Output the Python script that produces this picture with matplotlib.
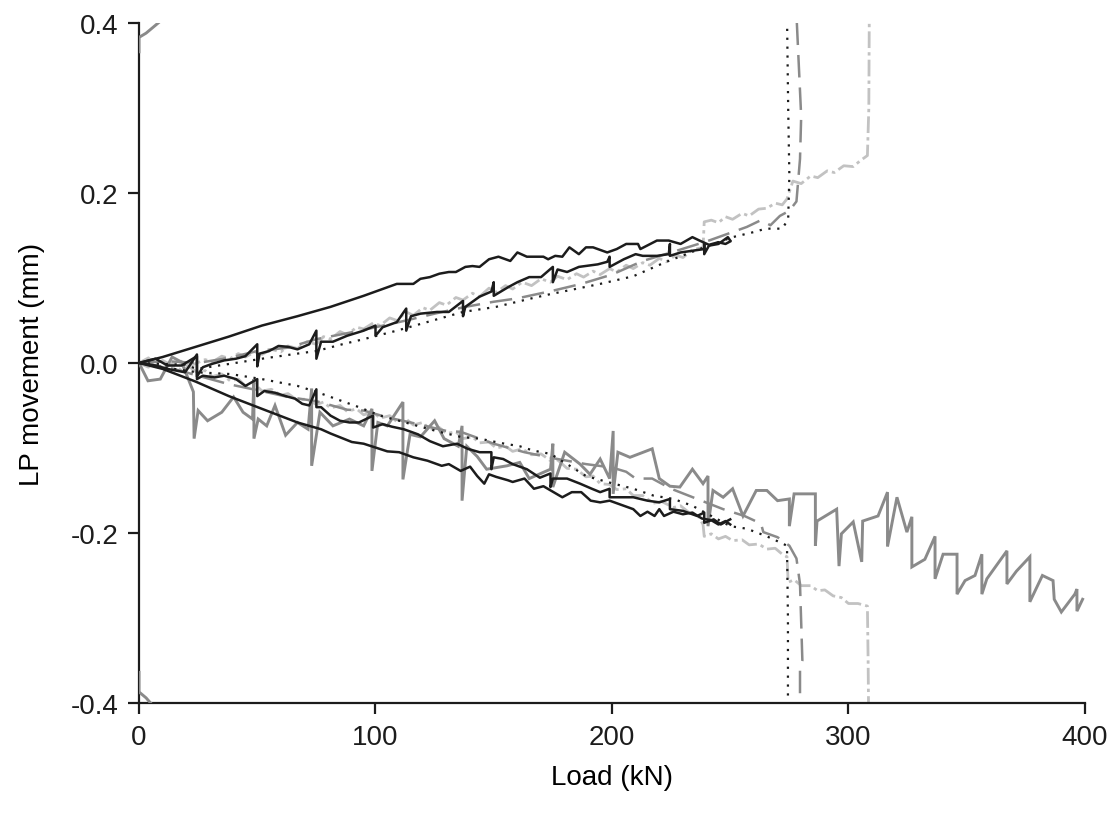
import matplotlib
matplotlib.use("Agg")
import matplotlib.pyplot as plt

plt.rcParams['font.family'] = ['Liberation Sans', 'DejaVu Sans']

# ---- Test A (black solid): two transducers per side ----
a1_up_load = [0, 10, 24, 38, 52, 67, 81, 95, 109, 116, 119, 123, 127, 131, 134, 138, 141, 144, 148, 152,
              157, 160, 164, 171, 173, 176, 179, 182, 186, 189, 192, 198, 202, 206, 211, 212, 219, 224,
              229, 234, 237, 241, 245, 248, 250]
a1_up_lp = [0, 0.007, 0.019, 0.031, 0.044, 0.055, 0.066, 0.079, 0.093, 0.093, 0.099, 0.101, 0.105, 0.107,
            0.107, 0.113, 0.114, 0.113, 0.122, 0.125, 0.12, 0.13, 0.125, 0.125, 0.122, 0.126, 0.125, 0.136,
            0.128, 0.136, 0.136, 0.13, 0.134, 0.14, 0.14, 0.134, 0.144, 0.144, 0.14, 0.148, 0.144, 0.139,
            0.142, 0.14, 0.143]

a1_lo_load = [0, 10, 24, 38, 52, 67, 77, 81, 90, 95, 105, 110, 116, 122, 128, 131, 136, 140, 143, 146, 148,
              151, 156, 158, 163, 167, 171, 179, 183, 187, 191, 195, 199, 205, 209, 212, 215, 218, 220, 222,
              226, 230, 234, 238, 242, 245, 248, 250]
a1_lo_lp = [0, -0.007, -0.022, -0.039, -0.054, -0.07, -0.078, -0.083, -0.093, -0.095, -0.104, -0.105,
            -0.111, -0.115, -0.121, -0.119, -0.127, -0.122, -0.133, -0.142, -0.131, -0.134, -0.138, -0.14,
            -0.136, -0.148, -0.145, -0.158, -0.152, -0.152, -0.162, -0.164, -0.162, -0.168, -0.172, -0.18,
            -0.175, -0.18, -0.172, -0.18, -0.175, -0.178, -0.176, -0.183, -0.185, -0.19, -0.186, -0.19]

a2_up_load = [0, 7, 12, 18, 24.5, 24.5, 27, 31, 36, 41, 45, 50, 50, 51, 55, 59, 63, 67, 72, 75, 75, 77, 82,
              88, 95, 100, 100, 103, 109, 113, 113, 115, 119, 126, 131, 137, 137, 138, 144, 149, 150, 150,
              156, 160, 165, 170, 175, 175, 177, 181, 186, 194, 198, 199, 199, 205, 210, 213, 219, 224,
              224.5, 224.5, 229, 234, 239, 239, 239, 241, 245, 249, 250]
a2_up_lp = [0, 0.005, -0.003, -0.003, 0.008, -0.016, -0.005, -0.001, 0.003, 0.005, 0.008, 0.022, -0.004,
            0.011, 0.014, 0.02, 0.019, 0.016, 0.022, 0.038, 0.005, 0.025, 0.025, 0.032, 0.038, 0.044, 0.032,
            0.042, 0.048, 0.064, 0.038, 0.055, 0.058, 0.06, 0.06, 0.073, 0.055, 0.066, 0.078, 0.084, 0.095,
            0.079, 0.089, 0.095, 0.101, 0.101, 0.113, 0.095, 0.11, 0.107, 0.113, 0.116, 0.119, 0.125, 0.113,
            0.122, 0.128, 0.126, 0.126, 0.128, 0.14, 0.126, 0.13, 0.132, 0.134, 0.14, 0.128, 0.138, 0.14,
            0.148, 0.144]

a2_lo_load = [0, 7, 12, 19.5, 24.5, 24.5, 27, 32, 36, 41, 45, 50, 50, 53, 57.5, 62, 66, 69, 72, 75, 75, 77,
              81, 85, 89, 93, 99, 99, 103, 107, 112, 118, 123, 128.5, 134.5, 139, 144, 149, 149, 150, 154,
              158, 164, 169.5, 174, 174, 175, 181, 186.5, 191.5, 195, 199, 199, 205, 209, 215, 220, 224.5,
              224.5, 230, 236, 239, 239, 243, 246, 250]
a2_lo_lp = [0, -0.003, -0.007, -0.011, 0.01, -0.019, -0.015, -0.017, -0.015, -0.019, -0.027, -0.019,
            -0.039, -0.033, -0.035, -0.039, -0.042, -0.048, -0.05, -0.031, -0.052, -0.052, -0.062, -0.068,
            -0.07, -0.07, -0.062, -0.076, -0.072, -0.075, -0.078, -0.084, -0.092, -0.098, -0.095, -0.101,
            -0.105, -0.105, -0.125, -0.111, -0.113, -0.119, -0.125, -0.135, -0.13, -0.146, -0.136, -0.136,
            -0.142, -0.148, -0.152, -0.148, -0.158, -0.158, -0.158, -0.162, -0.164, -0.16, -0.172, -0.174,
            -0.18, -0.176, -0.188, -0.184, -0.19, -0.184]

# ---- Test B (black dotted) ----
b_up_load = [0, 8, 19.5, 24.5, 38.5, 52, 67, 75, 86, 95, 109, 123, 137, 151, 166, 174, 181, 195, 209, 223,
             237, 251, 260, 265, 272, 274.5, 275, 274.5, 274]
b_up_lp = [0, -0.001, -0.002, -0.007, -0.001, 0.005, 0.011, 0.014, 0.022, 0.028, 0.038, 0.049, 0.06, 0.066,
           0.076, 0.081, 0.085, 0.093, 0.102, 0.119, 0.134, 0.148, 0.154, 0.158, 0.158, 0.169, 0.22, 0.3,
           0.41]

b_lo_load = [0, 10, 24.5, 38.5, 52, 67, 75, 85, 93, 102, 110, 119, 127, 136, 144, 152.6, 161, 166.6, 174,
             181, 189, 198, 209, 217.5, 226, 234, 242, 250, 257, 265.5, 271, 274, 274.4, 274.4]
b_lo_lp = [0, -0.005, -0.011, -0.013, -0.019, -0.027, -0.034, -0.044, -0.052, -0.062, -0.068, -0.075,
           -0.081, -0.087, -0.089, -0.094, -0.098, -0.103, -0.107, -0.119, -0.133, -0.14, -0.148, -0.156,
           -0.16, -0.168, -0.18, -0.192, -0.195, -0.204, -0.211, -0.215, -0.3, -0.41]

# ---- Test C (grey dashed) ----
c_up_load = [0, 12, 25, 38, 50, 63, 75, 88, 100, 113, 125, 138, 150, 160, 175, 187, 200, 213, 225, 240,
             257, 263, 267, 271, 275, 278, 279.5, 280, 279.5, 278]
c_up_lp = [0, 0.002, 0.0, 0.006, 0.014, 0.018, 0.028, 0.035, 0.042, 0.05, 0.058, 0.066, 0.072, 0.076,
           0.085, 0.093, 0.104, 0.12, 0.13, 0.143, 0.16, 0.168, 0.162, 0.173, 0.179, 0.19, 0.24, 0.29, 0.32,
           0.41]

c_lo_load = [0, 12, 25, 38, 50, 63, 75, 88, 95, 105, 118, 130, 136, 150, 163, 175, 189, 200, 206, 210,
             217, 225, 236, 247, 256, 263, 264, 270, 275, 278, 279.5, 280.5, 279.5, 279.5]
c_lo_lp = [0, -0.005, -0.015, -0.025, -0.032, -0.04, -0.045, -0.055, -0.056, -0.064, -0.072, -0.08,
           -0.081, -0.095, -0.105, -0.112, -0.119, -0.123, -0.128, -0.136, -0.136, -0.148, -0.16, -0.172,
           -0.18, -0.189, -0.199, -0.205, -0.215, -0.23, -0.26, -0.35, -0.36, -0.41]

# ---- Test D (light grey dash-dot) ----
d_up_load = [0, 4, 7, 10, 14, 18, 21, 24.5, 28, 31, 35, 38.5, 42, 45, 49, 52, 56, 60, 63, 67, 71, 75, 78,
             81, 85, 88, 92, 95, 99, 102, 106, 109, 113, 116, 120, 123, 127, 130, 134, 137, 141, 144, 148,
             151, 155, 158, 162, 166, 170, 174, 177, 181, 185, 188, 192, 195, 199, 202, 206, 209, 213, 216,
             220, 223, 227, 230, 234, 238.5, 239, 242, 245, 248, 251, 255, 258, 262, 265.5, 269, 272, 274,
             276.5, 280, 284, 287, 291, 294, 298, 302, 305, 308, 308.6, 308.8]
d_up_lp = [0, 0.006, -0.004, 0.003, -0.003, 0.002, -0.004, 0.0, 0.004, 0.001, 0.008, 0.005, 0.011, 0.007,
           0.013, 0.01, 0.016, 0.013, 0.02, 0.017, 0.025, 0.022, 0.031, 0.028, 0.037, 0.033, 0.042, 0.04,
           0.047, 0.044, 0.053, 0.05, 0.06, 0.056, 0.065, 0.062, 0.071, 0.068, 0.077, 0.074, 0.082, 0.078,
           0.088, 0.083, 0.091, 0.087, 0.095, 0.091, 0.099, 0.095, 0.102, 0.098, 0.105, 0.101, 0.108, 0.104,
           0.111, 0.107, 0.115, 0.111, 0.118, 0.115, 0.123, 0.119, 0.127, 0.124, 0.133, 0.136, 0.166, 0.168,
           0.165, 0.172, 0.169, 0.176, 0.173, 0.181, 0.182, 0.188, 0.186, 0.193, 0.214, 0.211, 0.22, 0.218,
           0.226, 0.224, 0.232, 0.231, 0.238, 0.244, 0.3, 0.41]

d_lo_load = [0, 4, 7, 10, 14, 18, 21, 24.5, 28, 31, 35, 38.5, 42, 45, 49, 52, 56, 60, 63, 67, 71, 75, 78,
             81, 85, 88, 92, 95, 99, 102, 106, 109, 113, 116, 120, 123, 127, 130, 134, 137, 141, 144, 148,
             151, 155, 158, 162, 166, 170, 174, 177, 181, 185, 189, 192, 195, 199, 202, 206, 209, 213,
             217.5, 221, 226, 229, 233, 236, 238.5, 239, 242, 245, 248, 251, 255, 258, 262, 265.5, 269, 272,
             274, 274.5, 277, 280, 284, 287, 290, 293.5, 297, 300, 304, 308, 308.3, 308.5]
d_lo_lp = [0, -0.005, 0.003, -0.006, -0.001, -0.009, -0.004, -0.011, -0.009, -0.016, -0.013, -0.021,
           -0.019, -0.027, -0.025, -0.033, -0.031, -0.038, -0.036, -0.044, -0.042, -0.049, -0.046, -0.053,
           -0.05, -0.057, -0.054, -0.061, -0.058, -0.065, -0.062, -0.069, -0.066, -0.073, -0.07, -0.078,
           -0.076, -0.083, -0.081, -0.089, -0.087, -0.094, -0.093, -0.1, -0.098, -0.104, -0.101, -0.108,
           -0.107, -0.115, -0.114, -0.124, -0.125, -0.134, -0.133, -0.142, -0.143, -0.149, -0.148, -0.156,
           -0.156, -0.165, -0.163, -0.17, -0.168, -0.177, -0.178, -0.19, -0.204, -0.201, -0.207, -0.204,
           -0.209, -0.208, -0.214, -0.213, -0.219, -0.218, -0.225, -0.228, -0.258, -0.255, -0.262, -0.262,
           -0.268, -0.267, -0.274, -0.276, -0.283, -0.283, -0.286, -0.35, -0.41]

# ---- Test E (grey solid) ----
e_lo_load = [0, 3.8, 9, 14, 18, 23, 23.3, 25, 29, 35, 40, 44, 48, 48.6, 48.6, 50.4, 54, 57.5, 62, 67, 71.5,
             73, 73, 76.5, 82, 89, 95, 98.5, 98.5, 101, 105, 111.6, 111.6, 114.6, 119, 125, 129, 135, 136.6,
             136.6, 138.6, 143, 147, 155.6, 161, 165, 174, 175, 175, 180, 186.5, 190.7, 195, 199, 200.5,
             200.5, 202.5, 207.6, 217, 220, 224.5, 228.7, 234, 238.5, 240.6, 240.6, 242.7, 247, 251, 255.4,
             261, 265.5, 270, 275, 275, 277, 283, 286, 286, 286.7, 295, 296, 297, 302, 305.6, 306, 312.5,
             316.5, 316.5, 320.5, 324.7, 326.8, 326.8, 332.3, 336.6, 336.6, 340, 345.9, 345.9, 349.3,
             353.5, 356.4, 356.4, 358.5, 367, 367, 371, 376.7, 376.7, 382, 386.5, 387, 390, 395.7, 396.6,
             396.6, 399]
e_lo_lp = [0, -0.021, -0.019, 0.007, 0.001, -0.034, -0.089, -0.056, -0.068, -0.058, -0.04, -0.058, -0.066,
           -0.019, -0.089, -0.066, -0.074, -0.05, -0.085, -0.07, -0.078, -0.03, -0.121, -0.058, -0.074,
           -0.066, -0.074, -0.054, -0.127, -0.07, -0.074, -0.046, -0.137, -0.084, -0.087, -0.068, -0.089,
           -0.098, -0.074, -0.162, -0.098, -0.11, -0.125, -0.121, -0.117, -0.136, -0.125, -0.095, -0.146,
           -0.105, -0.119, -0.131, -0.113, -0.136, -0.08, -0.154, -0.105, -0.111, -0.101, -0.136, -0.145,
           -0.146, -0.125, -0.142, -0.133, -0.192, -0.15, -0.158, -0.148, -0.18, -0.15, -0.15, -0.162,
           -0.16, -0.192, -0.154, -0.154, -0.154, -0.215, -0.186, -0.172, -0.239, -0.201, -0.187, -0.234,
           -0.186, -0.18, -0.152, -0.216, -0.158, -0.199, -0.181, -0.24, -0.231, -0.204, -0.254, -0.225,
           -0.225, -0.272, -0.256, -0.25, -0.225, -0.272, -0.254, -0.221, -0.26, -0.245, -0.228, -0.281,
           -0.25, -0.256, -0.278, -0.293, -0.272, -0.266, -0.292, -0.278]

# off-scale readings of test E near zero load
e_top_load = [0, 0, 3, 9]
e_top_lp = [0.366, 0.383, 0.388, 0.402]
e_bot_load = [0, 0, 3, 5.5]
e_bot_lp = [-0.364, -0.387, -0.394, -0.402]

x_ticks = [0, 100, 200, 300, 400]
y_ticks = [-0.4, -0.2, 0.0, 0.2, 0.4]
y_tick_labels = ['-0.4', '-0.2', '0.0', '0.2', '0.4']

BLACK = '#1c1c1c'
MID = '#8a8a8a'
LIGHT = '#c2c2c2'

fig = plt.figure(figsize=(11.12, 8.2), dpi=100)
ax = fig.add_axes([0.125, 0.1415, 0.8507, 0.8293])

# light grey dash-dot
for xs, ys in [(d_up_load, d_up_lp), (d_lo_load, d_lo_lp)]:
    ax.plot(xs, ys, color=LIGHT, lw=2.0, linestyle=(0, (6, 1.5, 1.2, 1.5)), zorder=2)
# grey dashed
for xs, ys in [(c_up_load, c_up_lp), (c_lo_load, c_lo_lp)]:
    ax.plot(xs, ys, color=MID, lw=1.8, linestyle=(0, (9, 4)), zorder=3)
# grey solid
for xs, ys in [(e_lo_load, e_lo_lp), (e_top_load, e_top_lp), (e_bot_load, e_bot_lp)]:
    ax.plot(xs, ys, color=MID, lw=2.1, solid_joinstyle='miter', zorder=3)
# black dotted
for xs, ys in [(b_up_load, b_up_lp), (b_lo_load, b_lo_lp)]:
    ax.plot(xs, ys, color=BLACK, lw=1.6, linestyle=(0, (1, 3)), zorder=4)
# black solid
for xs, ys in [(a1_up_load, a1_up_lp), (a1_lo_load, a1_lo_lp), (a2_up_load, a2_up_lp),
               (a2_lo_load, a2_lo_lp)]:
    ax.plot(xs, ys, color=BLACK, lw=1.8, zorder=5)

ax.set_xlim(0, 400)
ax.set_ylim(-0.4, 0.4)
ax.set_xticks(x_ticks)
ax.set_yticks(y_ticks)
ax.set_yticklabels(y_tick_labels)
ax.spines['top'].set_visible(False)
ax.spines['right'].set_visible(False)
for s in ('left', 'bottom'):
    ax.spines[s].set_linewidth(1.6)
    ax.spines[s].set_color(BLACK)
ax.tick_params(direction='out', length=8, width=1.6, colors=BLACK, labelsize=20, pad=7)
ax.set_xlabel('Load (kN)', fontsize=20, labelpad=10)
ax.set_ylabel('LP movement (mm)', fontsize=20, labelpad=18)

fig.savefig('out.png', dpi=100)
